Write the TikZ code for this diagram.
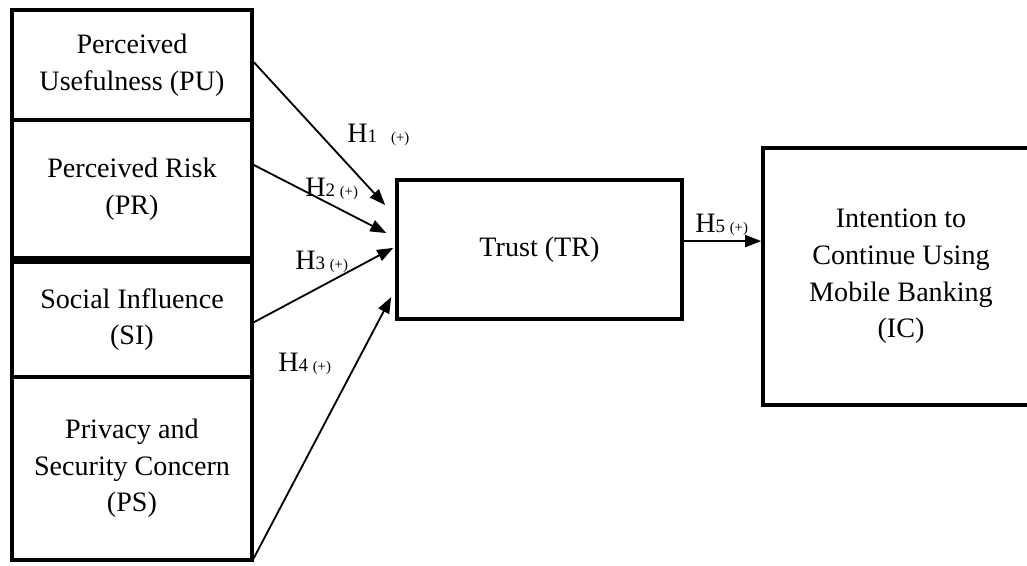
\documentclass[tikz,border=0pt]{standalone}
\usepackage{fontspec}
\setmainfont{Liberation Serif}
\usetikzlibrary{positioning, arrows.meta, calc}

\newcommand{\hidx}[1]{{\fontsize{13.5}{14}\selectfont #1}}
\newcommand{\hsign}{{\fontsize{10.5}{11}\selectfont (+)}}

\begin{document}
\begin{tikzpicture}[
    font=\fontsize{20}{26}\selectfont,
    box/.style={draw=black, line width=2.6pt, align=center, inner sep=0pt},
    arrow/.style={-{Triangle[length=0.4cm, width=0.3cm]}, line width=1.3pt, draw=black},
    hyp/.style={anchor=base west, inner sep=0pt, font=\fontsize{20}{22}\selectfont}
]
\useasboundingbox (0,0) rectangle (25.675,14.15);

% Constructs on the left
\node[box, minimum width=6.0cm, minimum height=2.75cm] (pu) at (3.3,12.525) {Perceived\\Usefulness (PU)};
\node[box, minimum width=6.0cm, minimum height=3.45cm] (pr) at (3.3,9.425) {Perceived Risk\\(PR)};
\node[box, minimum width=6.0cm, minimum height=2.875cm] (si) at (3.3,6.1625) {Social Influence\\(SI)};
\node[box, minimum width=6.0cm, minimum height=4.575cm] (ps) at (3.3,2.4375) {Privacy and\\Security Concern\\(PS)};

% Mediator and outcome
\node[box, minimum width=7.125cm, minimum height=3.475cm] (tr) at (13.4875,7.9125) {Trust (TR)};
\node[box, minimum width=6.9cm, minimum height=6.425cm] (ic) at (22.525,7.2375) {Intention to\\Continue Using\\Mobile Banking\\(IC)};

% Arrow ends at the trust box
\coordinate (t1) at ($(tr.west)+(-0.25,1.11)$);
\coordinate (t2) at ($(tr.west)+(-0.22,0.41)$);
\coordinate (t3) at ($(tr.west)+(-0.05,0.04)$);
\coordinate (t4) at ($(tr.west)+(-0.10,-1.19)$);
\coordinate (t5) at ([yshift=0.21cm]tr.east);

% Hypothesised paths
\draw[arrow] ([yshift=0.07cm]pu.east) -- (t1);
\draw[arrow] ([yshift=0.6cm]pr.east) -- (t2);
\draw[arrow] ([yshift=-0.07cm]si.east) -- (t3);
\draw[arrow] ([xshift=-0.05cm]ps.south east) -- (t4);
\draw[arrow] (t5) -- (t5 -| ic.west);

% Path labels
\node[hyp] (h1) at (8.675,10.575) {H\hidx{1}\ \ \hsign};
\node[hyp] (h2) at (7.625,9.225) {H\hidx{2}\,\hsign};
\node[hyp] (h3) at (7.375,7.40) {H\hidx{3}\,\hsign};
\node[hyp] (h4) at (6.95,4.85) {H\hidx{4}\,\hsign};
\node[hyp] (h5) at (17.375,8.325) {H\hidx{5}\,\hsign};

\end{tikzpicture}
\end{document}
